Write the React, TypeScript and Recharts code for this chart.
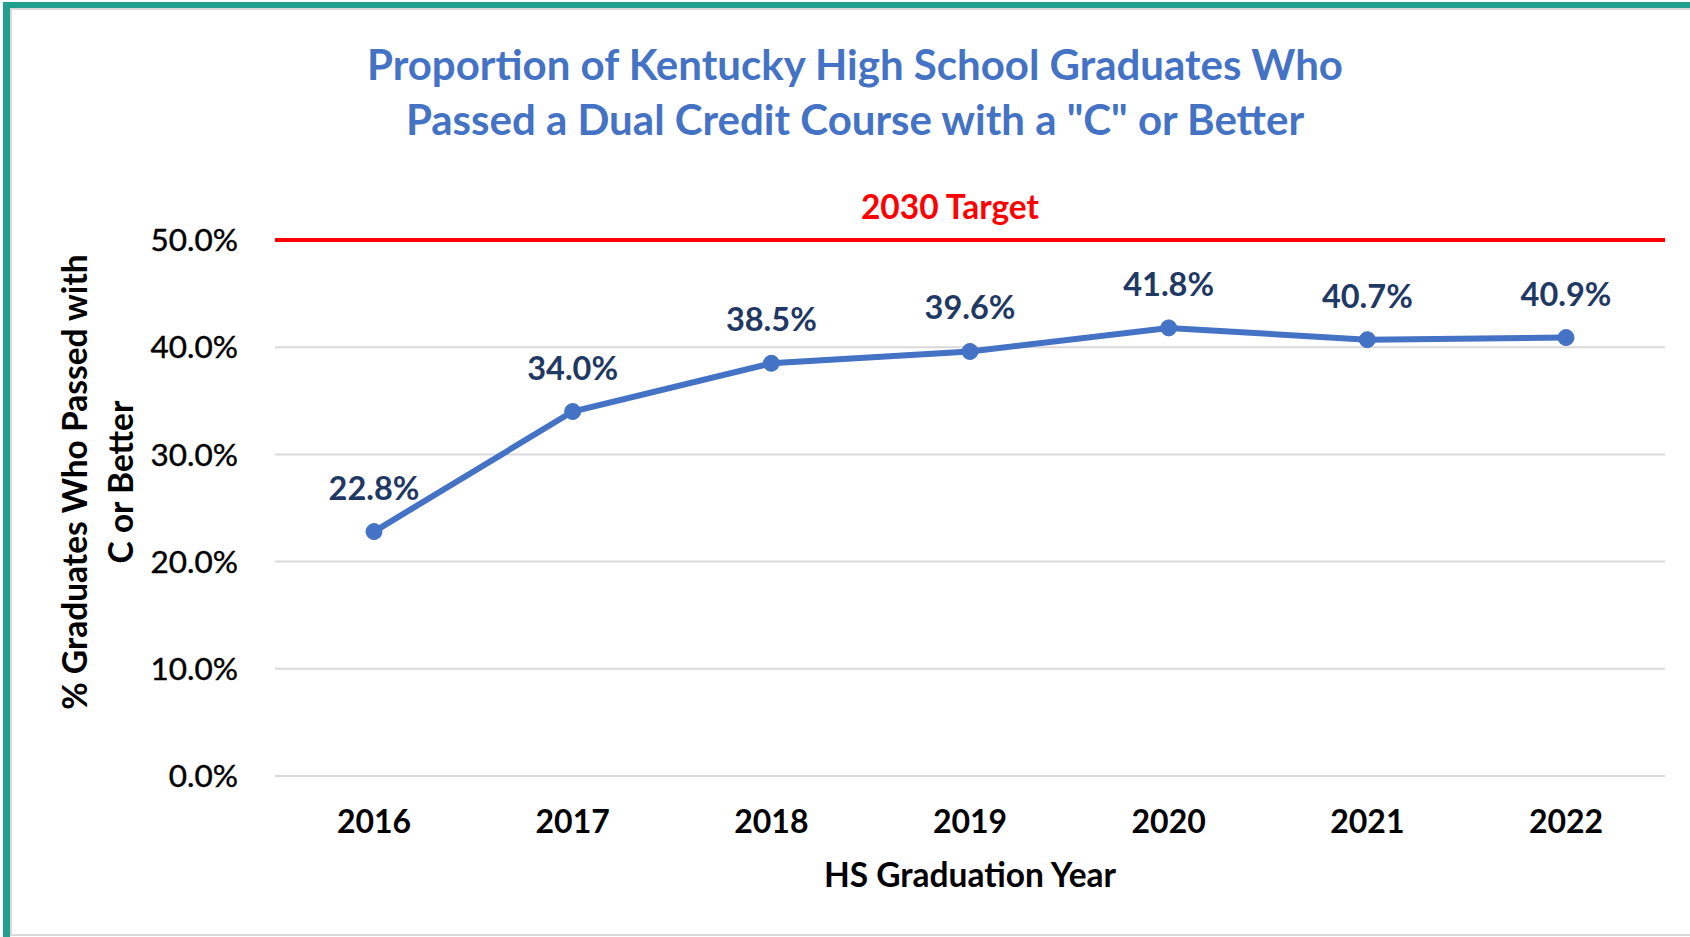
import { LineChart, Line, XAxis, YAxis, CartesianGrid, ReferenceLine, LabelList, Label } from "recharts";

const years = ["2016", "2017", "2018", "2019", "2020", "2021", "2022"];
const passedPct = [22.8, 34.0, 38.5, 39.6, 41.8, 40.7, 40.9];
const yTicks = [0, 10, 20, 30, 40, 50];
const target2030 = 50;

const data = years.map((year, i) => ({ year, value: passedPct[i] }));

const FONT = "Lato, 'Noto Sans', sans-serif";
const BLUE = "#4472C4";
const NAVY = "#1F3864";

function YTitle() {
  const cx = 99;
  const cy = 482;
  return (
    <text
      transform={`rotate(-90, ${cx}, ${cy})`}
      x={cx}
      y={cy}
      textAnchor="middle"
      fontFamily={FONT}
      fontWeight="bold"
      fontSize={33.5}
      fill="#000"
    >
      <tspan x={cx} dy={-12}>% Graduates Who Passed with</tspan>
      <tspan x={cx} dy={46}>C or Better</tspan>
    </text>
  );
}

export default function App() {
  return (
    <div style={{ position: "absolute", left: 0, top: 0, width: 1690, height: 937, background: "#fff", overflow: "hidden" }}>
      {/* frame */}
      <div style={{ position: "absolute", left: 3, top: 2, right: 0, bottom: 0, borderTop: "6px solid #21A08D", borderLeft: "7px solid #21A08D" }} />
      <div style={{ position: "absolute", left: 10, top: 8, right: 0, bottom: 1, borderTop: "2px solid #d9d9d9", borderLeft: "2px solid #d9d9d9", borderBottom: "2px solid #d9d9d9" }} />

      <div
        style={{
          position: "absolute",
          left: 305,
          width: 1100,
          top: 37,
          textAlign: "center",
          fontFamily: FONT,
          fontWeight: "bold",
          fontSize: 42,
          lineHeight: "55px",
          color: BLUE,
        }}
      >
        Proportion of Kentucky High School Graduates Who
        <br />
        Passed a Dual Credit Course with a "C" or Better
      </div>

      <div style={{ position: "absolute", left: 0, top: 0 }}>
        <LineChart width={1690} height={937} data={data} margin={{ top: 240, right: 25, bottom: 0, left: 0 }}>
          <CartesianGrid horizontal vertical={false} stroke="#d9d9d9" strokeWidth={2} />
          <XAxis
            dataKey="year"
            height={161}
            padding={{ left: 99, right: 99 }}
            axisLine={false}
            tickLine={false}
            tickSize={0}
            tickMargin={34}
            tick={{ fontFamily: FONT, fontWeight: "bold", fontSize: 32, fill: "#000" }}
          >
            <Label
              value="HS Graduation Year"
              position="insideBottom"
              offset={50}
              style={{ fontFamily: FONT, fontWeight: "bold", fontSize: 33.5, fill: "#000" }}
            />
          </XAxis>
          <YAxis
            width={275}
            domain={[0, 50]}
            ticks={yTicks}
            axisLine={false}
            tickLine={false}
            tickSize={0}
            tickMargin={37}
            tickFormatter={(v: number) => `${v.toFixed(1)}%`}
            tick={{ fontFamily: FONT, fontSize: 31.5, fill: "#000", stroke: "#000", strokeWidth: 0.4 }}
            label={<YTitle />}
          />
          <ReferenceLine
            y={target2030}
            stroke="#FF0000"
            strokeWidth={4}
            label={{
              value: "2030 Target",
              position: "top",
              offset: 21,
              dx: -20,
              fill: "#FF0000",
              fontFamily: FONT,
              fontWeight: "bold",
              fontSize: 33.5,
            }}
          />
          <Line
            type="linear"
            dataKey="value"
            stroke={BLUE}
            strokeWidth={6}
            dot={{ r: 8, fill: BLUE, stroke: BLUE, strokeWidth: 1 }}
            isAnimationActive={false}
          >
            <LabelList
              dataKey="value"
              position="top"
              offset={32}
              formatter={(v: any) => `${Number(v).toFixed(1)}%`}
              style={{ fontFamily: FONT, fontWeight: "bold", fontSize: 32.5, fill: NAVY }}
            />
          </Line>
        </LineChart>
      </div>
    </div>
  );
}
